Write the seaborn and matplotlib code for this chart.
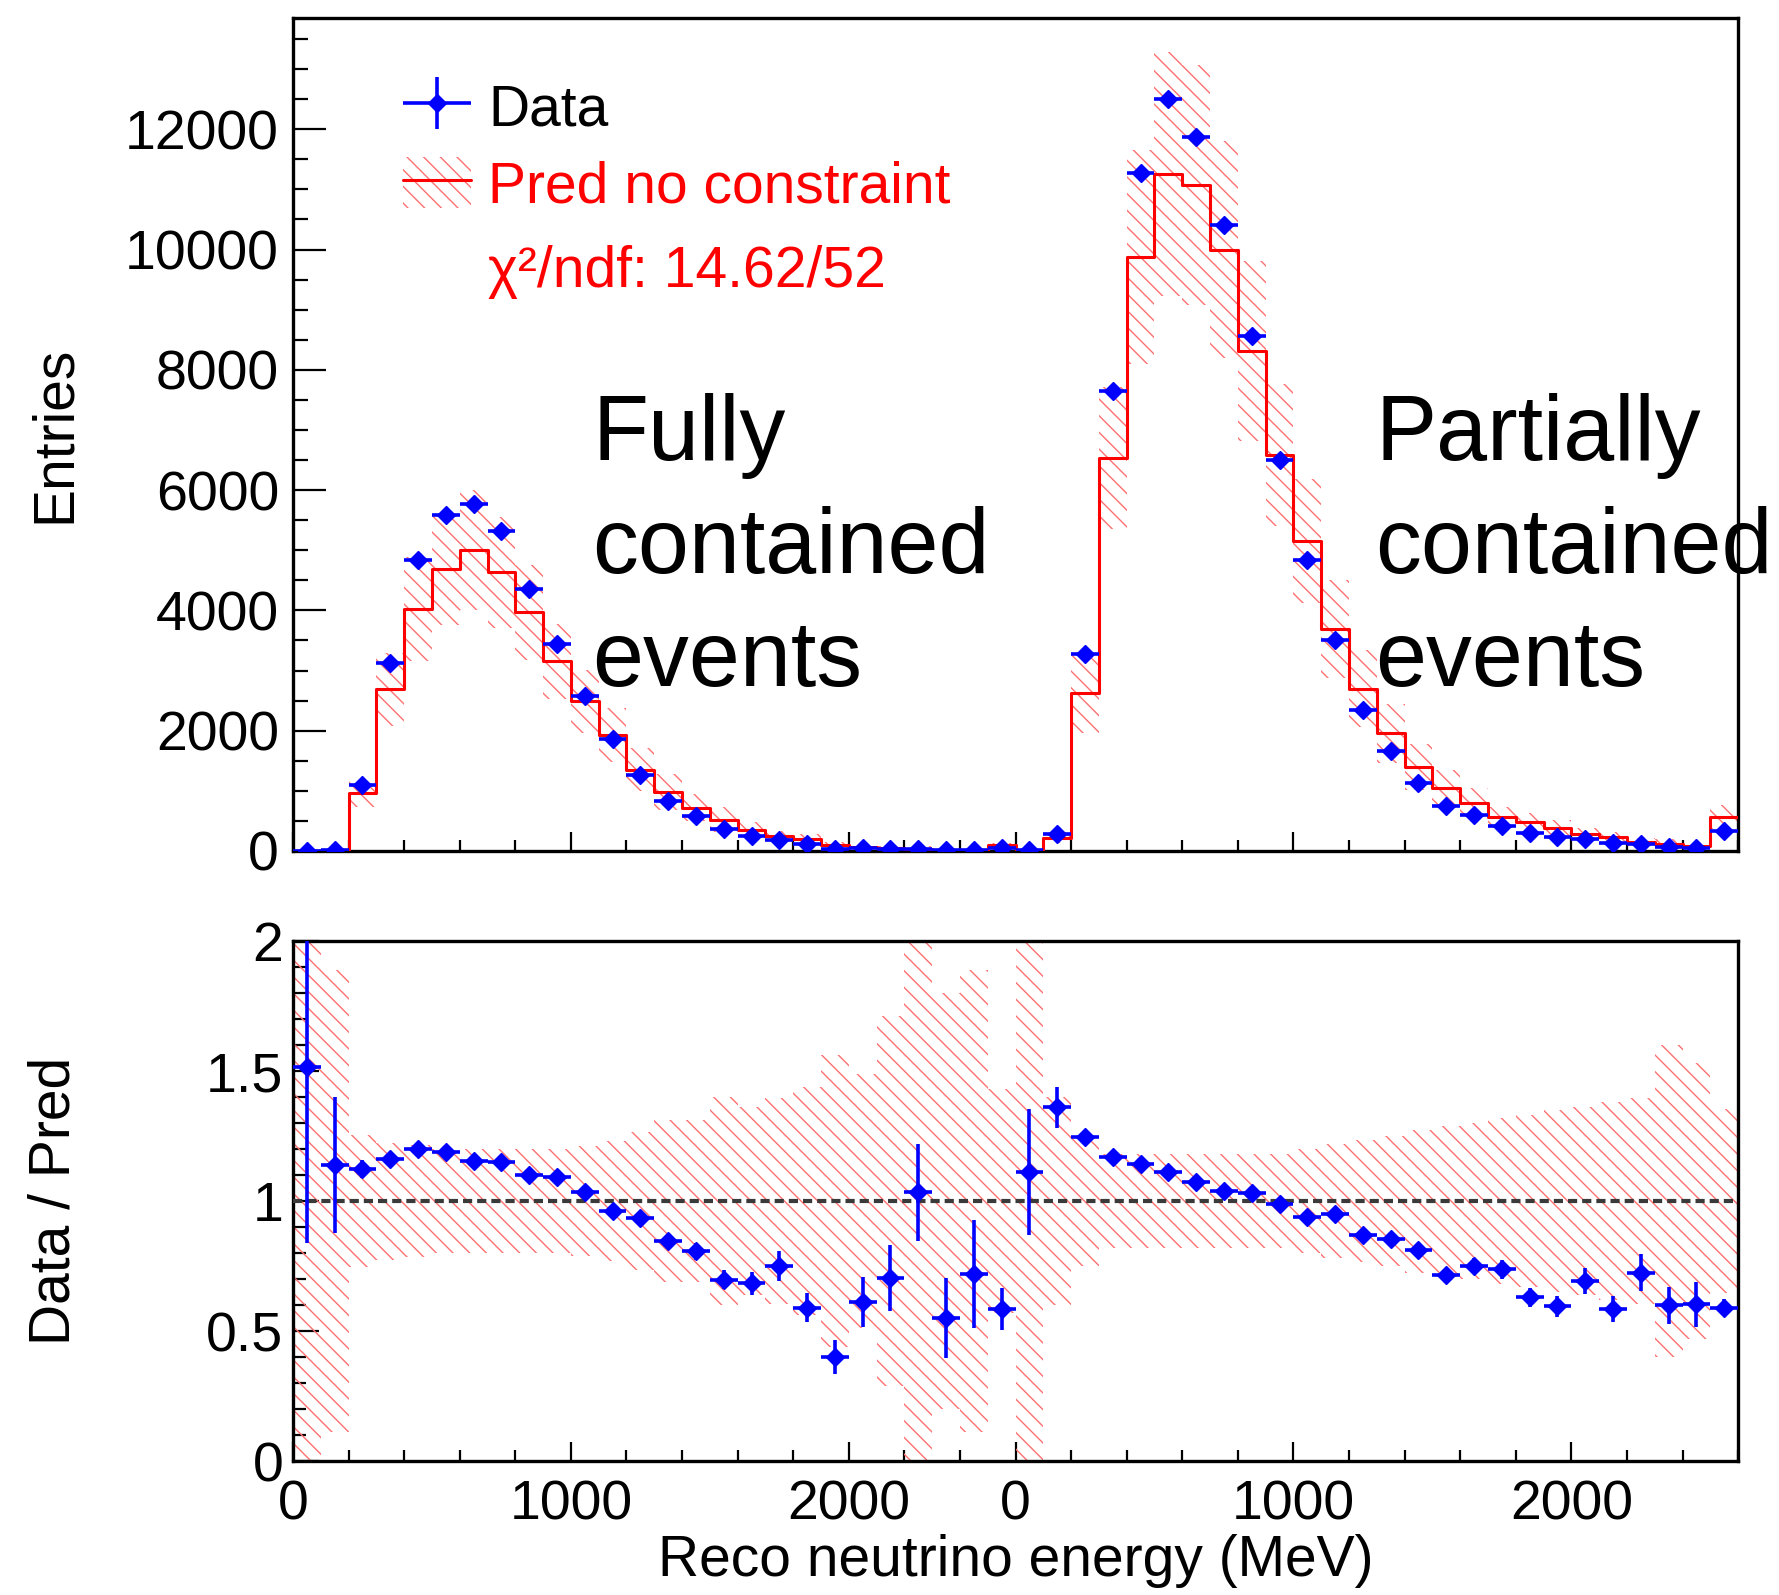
import numpy as np
import pandas as pd
import matplotlib
matplotlib.use("Agg")
import matplotlib.pyplot as plt
import seaborn as sns
from matplotlib.patches import Patch
from matplotlib.lines import Line2D
from matplotlib.container import ErrorbarContainer
from matplotlib.legend_handler import HandlerErrorbar
from matplotlib.ticker import FixedLocator, MultipleLocator, FuncFormatter

sns.set_theme(style="ticks", rc={"text.color": "black", "axes.labelcolor": "black",
                                 "xtick.color": "black", "ytick.color": "black"})
plt.rcParams["font.family"] = ["Liberation Sans", "DejaVu Sans"]
plt.rcParams["hatch.linewidth"] = 1.0

# 52 bins of 100 MeV: 26 fully contained (FC) then 26 partially contained (PC)
data_fc = [5, 19, 1090, 3120, 4830, 5580, 5770, 5320, 4360, 3440, 2570, 1860, 1260,
           826, 580, 360, 240, 180, 115, 38, 41, 31, 31, 13, 12, 53]
data_pc = [21, 289, 3270, 7650, 11280, 12500, 11870, 10400, 8560, 6500, 4840, 3510, 2350,
           1670, 1130, 750, 600, 410, 300, 225, 193, 137, 108, 73, 50, 330]
pred_fc = [3.3, 16.7, 971, 2690, 4025, 4689, 5000, 4630, 3967, 3150, 2488, 1931, 1349,
           978, 719, 516, 351, 240, 195, 95, 67, 44, 30, 23.6, 16.7, 90.6]
pred_pc = [18.9, 212.5, 2624, 6538, 9877, 11261, 11073, 10000, 8311, 6586, 5149, 3695, 2701,
           1953, 1395, 1046, 800, 556, 476, 378, 278, 234, 149, 122, 83, 559]
# relative uncertainty of the prediction (hatched band)
syst_fc = [1.5, 0.89, 0.255, 0.225, 0.215, 0.20, 0.20, 0.20, 0.20, 0.20, 0.21, 0.23, 0.265,
           0.31, 0.31, 0.40, 0.36, 0.395, 0.44, 0.56, 0.49, 0.71, 1.5, 0.80, 0.89, 0.43]
syst_pc = [1.5, 0.40, 0.25, 0.18, 0.18, 0.18, 0.18, 0.18, 0.18, 0.18, 0.20, 0.22, 0.235,
           0.25, 0.275, 0.29, 0.30, 0.32, 0.33, 0.35, 0.36, 0.38, 0.395, 0.60, 0.53, 0.355]

x_tick_pos = [0, 1000, 2000, 2600, 3600, 4600]
x_tick_labels = ["0", "1000", "2000", "0", "1000", "2000"]
fc_text = ["Fully", "contained", "events"]
pc_text = ["Partially", "contained", "events"]

data = np.array(data_fc + data_pc, dtype=float)
pred = np.array(pred_fc + pred_pc, dtype=float)
syst = np.array(syst_fc + syst_pc, dtype=float)
edges = np.arange(0, 5201, 100)
centers = edges[:-1] + 50
df = pd.DataFrame({"energy": centers, "pred": pred})

stat = np.sqrt(data)
ratio = data / pred
ratio_err = stat / pred

hatch_red = "#ff7070"
blue = "#0000ff"


def band(ax, lo, hi):
    ax.fill_between(edges, np.append(lo, lo[-1]), np.append(hi, hi[-1]), step="post",
                    facecolor="none", edgecolor=hatch_red, linewidth=0, hatch="\\\\", zorder=1)


def root_style(ax, ymaj, ymin_len):
    for sp in ax.spines.values():
        sp.set_linewidth(2.4)
        sp.set_color("black")
    ax.set_facecolor("white")
    ax.set_xlim(0, 5200)
    ax.xaxis.set_major_locator(FixedLocator(x_tick_pos))
    ax.xaxis.set_minor_locator(FixedLocator([m for m in range(0, 5201, 200) if m not in x_tick_pos]))
    ax.tick_params(which="both", direction="in", top=False, right=False, width=1.6,
                   color="black", labelsize=40, labelcolor="black")
    ax.tick_params(axis="y", which="major", length=ymaj)
    ax.tick_params(axis="y", which="minor", length=ymin_len)
    ax.tick_params(axis="x", which="major", length=14, pad=13)
    ax.tick_params(axis="x", which="minor", length=8)


fig = plt.figure(figsize=(17.79, 15.95), dpi=100)
fig.patch.set_facecolor("white")
ax_top = fig.add_axes([0.1647, 0.4665, 0.8123, 0.5222])
ax_bot = fig.add_axes([0.1647, 0.0840, 0.8123, 0.3260])

# ---- top panel ----
band(ax_top, np.clip(pred * (1 - syst), 0, None), pred * (1 + syst))
sns.histplot(data=df, x="energy", weights="pred", binwidth=100, binrange=(0, 5200),
             element="step", fill=False, color="red", linewidth=2.2, ax=ax_top, zorder=3)
data_handle = ax_top.errorbar(centers, data, xerr=50, yerr=stat, fmt="D", color=blue,
                              ms=9.5, elinewidth=2.6, capsize=0, zorder=5)
ax_top.set_ylim(0, 13850)
root_style(ax_top, 24, 11)
ax_top.yaxis.set_major_locator(MultipleLocator(2000))
ax_top.yaxis.set_minor_locator(MultipleLocator(500))
ax_top.tick_params(axis="y", pad=10)
ax_top.tick_params(axis="x", labelbottom=False)
ax_top.set_xlabel("")
ax_top.set_ylabel("Entries", fontsize=41, va="center", color="black")
ax_top.yaxis.set_label_coords(-0.165, 0.5)

pred_handle = (Patch(facecolor="none", edgecolor=hatch_red, hatch="\\\\", linewidth=0),
               Line2D([], [], color="red", lw=2.2))
leg = ax_top.legend([data_handle, pred_handle], ["Data", "Pred no constraint"],
                    loc="upper left", bbox_to_anchor=(0.0761, 0.925), frameon=False,
                    fontsize=41, handlelength=1.2, handleheight=1.0, handletextpad=0.3,
                    labelspacing=0.35, borderpad=0, borderaxespad=0,
                    handler_map={ErrorbarContainer: HandlerErrorbar(xerr_size=0.6, yerr_size=0.45)})
leg.get_texts()[0].set_color("black")
leg.get_texts()[1].set_color("red")
ax_top.text(0.135, 0.695, "χ²/ndf: 14.62/52", color="red", fontsize=41, va="center",
            transform=ax_top.transAxes)

for k, line in enumerate(fc_text):
    ax_top.text(0.207, 0.4694 - 0.1357 * k, line, fontsize=66, va="baseline", color="black",
                transform=ax_top.transAxes)
for k, line in enumerate(pc_text):
    ax_top.text(0.749, 0.4694 - 0.1357 * k, line, fontsize=66, va="baseline", color="black",
                transform=ax_top.transAxes)

# ---- ratio panel ----
band(ax_bot, 1 - syst, 1 + syst)
ax_bot.axhline(1, color="#3a3a3a", lw=3.0, ls=(0, (2.2, 1.2)), zorder=3)
ax_bot.errorbar(centers, ratio, xerr=50, yerr=ratio_err, fmt="D", color=blue,
                ms=9.5, elinewidth=2.6, capsize=0, zorder=5)
ax_bot.set_ylim(0, 2)
root_style(ax_bot, 19, 9)
ax_bot.yaxis.set_major_locator(MultipleLocator(0.5))
ax_bot.yaxis.set_minor_locator(MultipleLocator(0.1))
ax_bot.yaxis.set_major_formatter(FuncFormatter(lambda v, p: f"{v:g}"))
ax_bot.tick_params(axis="y", pad=7)
ax_bot.set_xticklabels(x_tick_labels)
ax_bot.set_ylabel("Data / Pred", fontsize=41, va="center", color="black")
ax_bot.yaxis.set_label_coords(-0.165, 0.5)
ax_bot.set_xlabel("Reco neutrino energy (MeV)", fontsize=41, va="top", color="black")
ax_bot.xaxis.set_label_coords(0.5, -0.14)

fig.savefig("out.png", dpi=100)
